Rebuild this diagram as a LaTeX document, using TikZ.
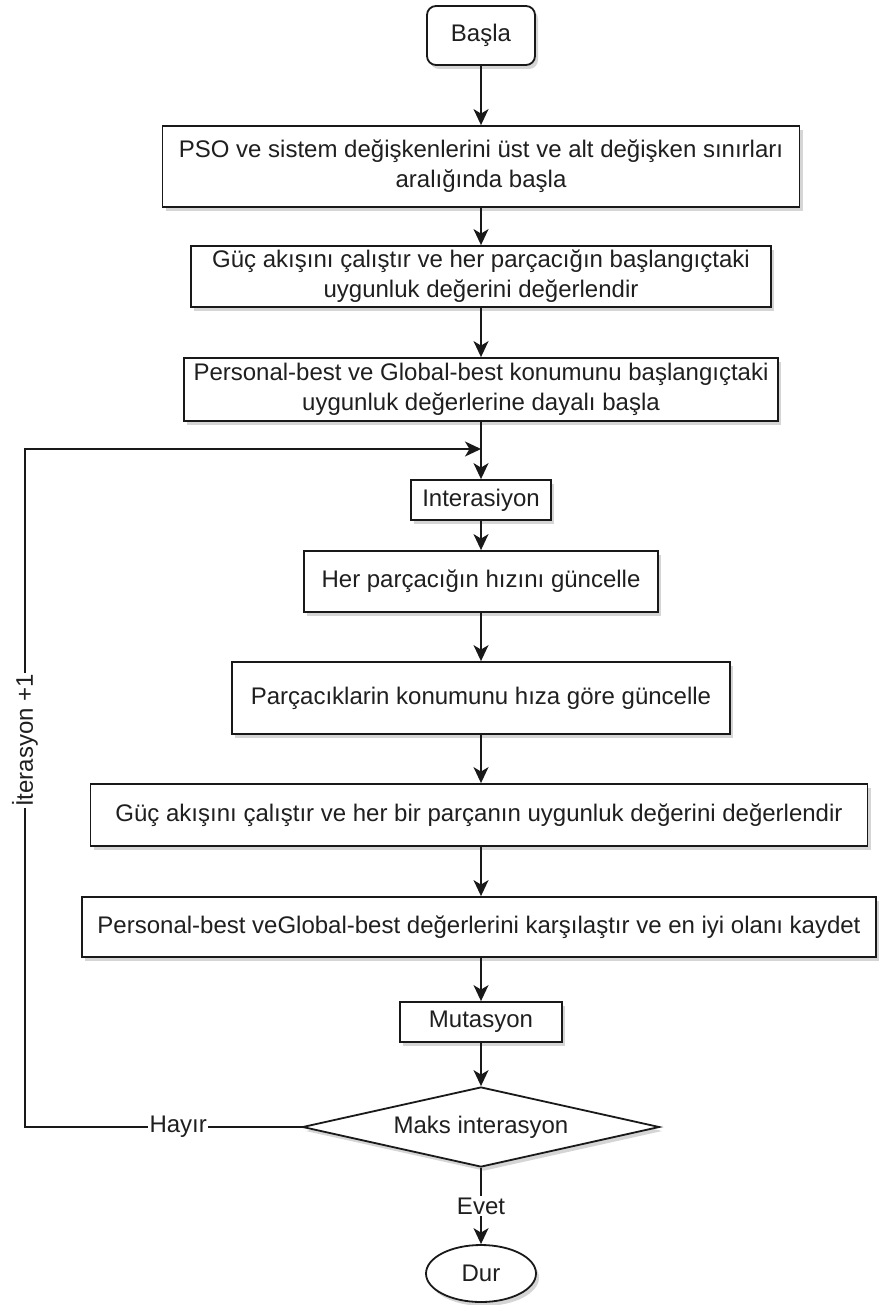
\documentclass[tikz,border=0pt]{standalone}
\usepackage{fontspec}
\setmainfont{Liberation Sans}
\usetikzlibrary{shapes.geometric,arrows.meta,shadows}
\begin{document}
\begin{tikzpicture}[x=1pt,y=-1pt,
  every node/.style={font=\fontsize{24}{30}\selectfont, text=black!88},
  shad/.style={drop shadow={shadow xshift=3pt,shadow yshift=-4pt,opacity=0.3,fill=black!55}},
  procbox/.style={draw=black!90, line width=1.8pt, fill=white, shad, align=center, inner sep=0pt},
  termbox/.style={procbox, rounded corners=9pt},
  decbox/.style={diamond, draw=black!90, line width=1.8pt, fill=white, shad, aspect=4.46, inner sep=0pt},
  endbox/.style={ellipse, draw=black!90, line width=1.8pt, fill=white, shad, inner sep=0pt},
  conn/.style={line width=1.8pt, draw=black!90},
  arr/.style={conn, -{Stealth[length=16pt,width=15pt,inset=4.5pt]}},
  lbl/.style={fill=white, inner sep=1.5pt}
]
\useasboundingbox (0,0) rectangle (880,1305);

\node[termbox, minimum width=108pt, minimum height=59pt] (start) at (481,35.5) {Başla};
\node[procbox, minimum width=637pt, minimum height=81pt] (b1) at (481,166.5)
  {PSO ve sistem değişkenlerini üst ve alt değişken sınırları\\aralığında başla};
\node[procbox, minimum width=580pt, minimum height=61pt] (b2) at (481,276.5)
  {Güç akışını çalıştır ve her parçacığın başlangıçtaki\\uygunluk değerini değerlendir};
\node[procbox, minimum width=594pt, minimum height=63pt] (b3) at (481,389.5)
  {Personal-best ve Global-best konumunu başlangıçtaki\\uygunluk değerlerine dayalı başla};
\coordinate (j) at (481,449);
\node[procbox, minimum width=140pt, minimum height=40pt] (iter) at (481,500) {Interasiyon};
\node[procbox, minimum width=354pt, minimum height=61pt] (hiz) at (481,581.5) {Her parçacığın hızını güncelle};
\node[procbox, minimum width=498pt, minimum height=72pt] (kon) at (481,698) {Parçacıklarin konumunu hıza göre güncelle};
\node[procbox, minimum width=777pt, minimum height=62pt] (uyg) at (479,815) {Güç akışını çalıştır ve her bir parçanın uygunluk değerini değerlendir};
\node[procbox, minimum width=794pt, minimum height=60pt] (kar) at (479,927) {Personal-best veGlobal-best değerlerini karşılaştır ve en iyi olanı kaydet};
\node[procbox, minimum width=162pt, minimum height=40pt] (mut) at (481,1022) {Mutasyon};
\node[decbox, minimum width=357pt, minimum height=80pt] (dec) at (481,1127) {Maks interasyon};
\node[endbox, minimum width=110pt, minimum height=57pt] (dur) at (481,1273.5) {Dur};
\coordinate (c1) at (25,1127);
\coordinate (c2) at (25,449);

\draw[arr] (start) -- (b1);
\draw[arr] (b1) -- (b2);
\draw[arr] (b2) -- (b3);
\draw[arr] (b3) -- (iter);
\draw[arr] (iter) -- (hiz);
\draw[arr] (hiz) -- (kon);
\draw[arr] (kon) -- (kon |- uyg.north);
\draw[arr] (kon |- uyg.south) -- (kon |- kar.north);
\draw[arr] (kon |- kar.south) -- (mut);
\draw[arr] (mut) -- (dec);
\draw[arr] (dec) -- node[lbl]{Evet} (dur);
\draw[arr] (dec.west) -- node[lbl, pos=0.446]{Hayır} (c1)
  -- node[lbl, pos=0.57, rotate=90]{İterasyon +1} (c2) -- (j);
\end{tikzpicture}
\end{document}
